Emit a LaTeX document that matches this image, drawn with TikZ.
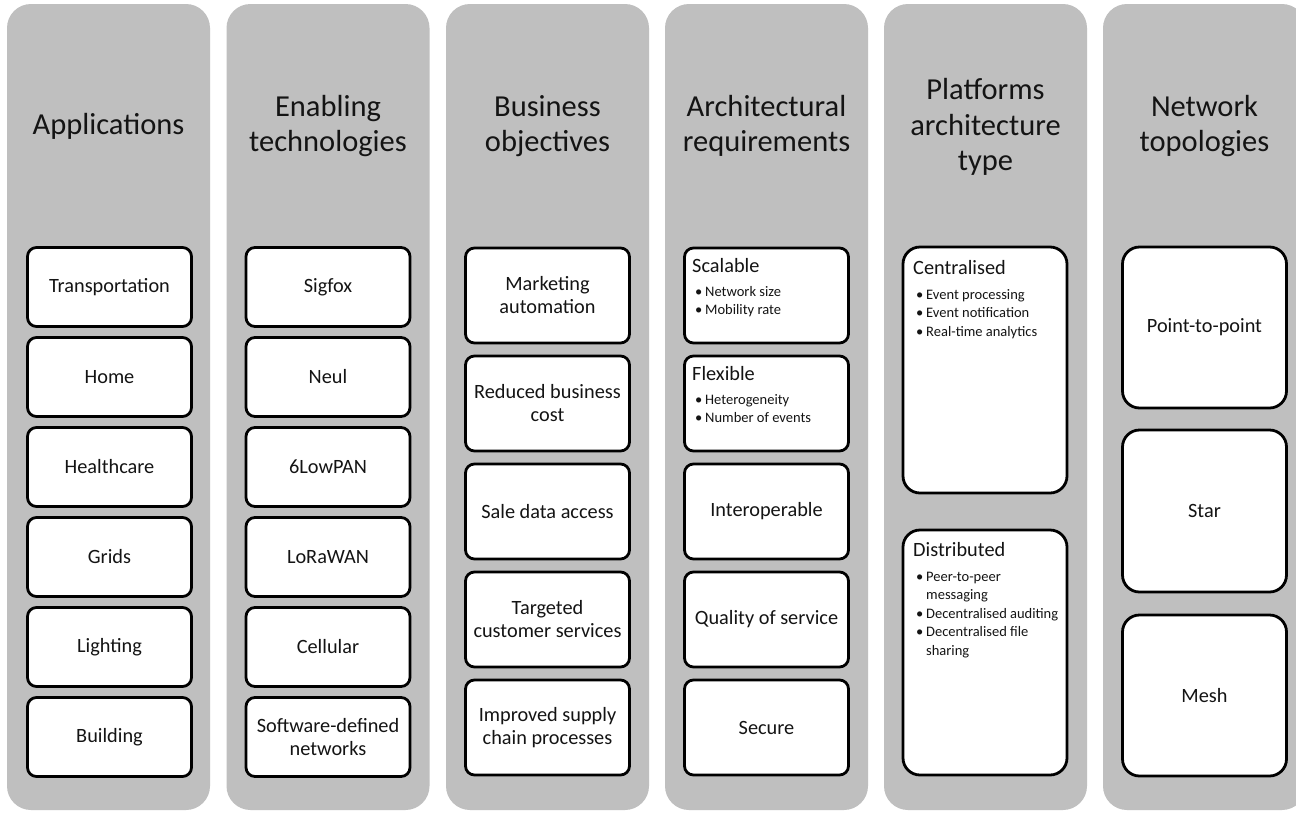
\documentclass[tikz,border=0pt]{standalone}
\usepackage{fontspec}
\setmainfont{Carlito}
\definecolor{colgray}{HTML}{BFBFBF}
\definecolor{txt}{HTML}{141414}
\newcommand{\bl}{\makebox[10pt][l]{\textbullet}}
\newcommand{\blist}[1]{\begin{tabular}[t]{@{}l@{}}#1\end{tabular}}
\begin{document}
\begin{tikzpicture}[x=1pt,y=-1pt,
  col/.style={fill=colgray, draw=none, rounded corners=24pt, minimum width=203pt, minimum height=806pt, inner sep=0pt},
  coltitle/.style={font=\fontsize{30.5}{35.5}\selectfont, align=center, text=txt},
  box/.style={draw=black, line width=2.8pt, fill=white, rounded corners=9pt, minimum width=164pt, inner sep=0pt, font=\fontsize{20.3}{23}\selectfont, align=center, text=txt},
  bigbox/.style={box, rounded corners=17pt},
  boxtitle/.style={anchor=base west, inner sep=0pt, font=\fontsize{20.3}{24}\selectfont, text=txt},
  bullets/.style={anchor=base west, inner sep=0pt, font=\fontsize{14.5}{18.5}\selectfont, text=txt}
]
\useasboundingbox (0,0) rectangle (1296,812);
\fill[white] (0,0) rectangle (1296,812);
% columns
\node[col] (c1) at (108.5,407) {};
\node[col] (c2) at (328,407) {};
\node[col] (c3) at (547.5,407) {};
\node[col] (c4) at (766.5,407) {};
\node[col] (c5) at (985.5,407) {};
\node[col] (c6) at (1204.5,407) {};
% titles
\node[coltitle] (t1) at (108.5,126) {Applications};
\node[coltitle] (t2) at (328,126) {Enabling\\technologies};
\node[coltitle] (t3) at (547.5,126) {Business\\objectives};
\node[coltitle] (t4) at (766.5,126) {Architectural\\requirements};
\node[coltitle] (t5) at (985.5,127) {Platforms\\architecture\\type};
\node[coltitle] (t6) at (1204.5,126) {Network\\topologies};
% column 1
\node[box, minimum height=79pt] (a1) at (109.5,287) {Transportation};
\node[box, minimum height=79pt] (a2) at (109.5,377) {Home};
\node[box, minimum height=79pt] (a3) at (109.5,467) {Healthcare};
\node[box, minimum height=79pt] (a4) at (109.5,557) {Grids};
\node[box, minimum height=79pt] (a5) at (109.5,647) {Lighting};
\node[box, minimum height=79pt] (a6) at (109.5,737) {Building};
% column 2
\node[box, minimum height=79pt] (b1) at (328,287) {Sigfox};
\node[box, minimum height=79pt] (b2) at (328,377) {Neul};
\node[box, minimum height=79pt] (b3) at (328,467) {6LowPAN};
\node[box, minimum height=79pt] (b4) at (328,557) {LoRaWAN};
\node[box, minimum height=79pt] (b5) at (328,647) {Cellular};
\node[box, minimum height=79pt] (b6) at (328,737) {Software-defined\\networks};
% column 3
\node[box, minimum height=95pt] (d1) at (547.5,295.5) {Marketing\\automation};
\node[box, minimum height=95pt] (d2) at (547.5,403.5) {Reduced business\\cost};
\node[box, minimum height=95pt] (d3) at (547.5,511.5) {Sale data access};
\node[box, minimum height=95pt] (d4) at (547.5,619.5) {Targeted\\customer services};
\node[box, minimum height=95pt] (d5) at (547.5,727.5) {Improved supply\\chain processes};
% column 4
\node[box, minimum height=95pt] (r1) at (766.5,295.5) {};
\node[boxtitle] (r1t) at (692,272) {Scalable};
\node[bullets] (r1b) at (695,296) {\blist{\bl Network size\\\bl Mobility rate}};
\node[box, minimum height=95pt] (r2) at (766.5,403.5) {};
\node[boxtitle] (r2t) at (692,380) {Flexible};
\node[bullets] (r2b) at (695,404) {\blist{\bl Heterogeneity\\\bl Number of events}};
\node[box, minimum height=95pt] (r3) at (766.5,511.5) {Interoperable};
\node[box, minimum height=95pt] (r4) at (766.5,619.5) {Quality of service};
\node[box, minimum height=95pt] (r5) at (766.5,727.5) {Secure};
% column 5
\node[bigbox, minimum height=246pt] (p1) at (985,370) {};
\node[boxtitle] (p1t) at (913,274) {Centralised};
\node[bullets] (p1b) at (916,299) {\blist{\bl Event processing\\\bl Event notification\\\bl Real-time analytics}};
\node[bigbox, minimum height=245pt] (p2) at (985,652.5) {};
\node[boxtitle] (p2t) at (913,556) {Distributed};
\node[bullets] (p2b) at (916,581) {\blist{\bl Peer-to-peer\\\hspace*{10pt}messaging\\\bl Decentralised auditing\\\bl Decentralised file\\\hspace*{10pt}sharing}};
% column 6
\node[bigbox, minimum height=161pt] (n1) at (1204.5,327.5) {Point-to-point};
\node[bigbox, minimum height=162pt] (n2) at (1204.5,511) {Star};
\node[bigbox, minimum height=161pt] (n3) at (1204.5,695.5) {Mesh};
\end{tikzpicture}
\end{document}
